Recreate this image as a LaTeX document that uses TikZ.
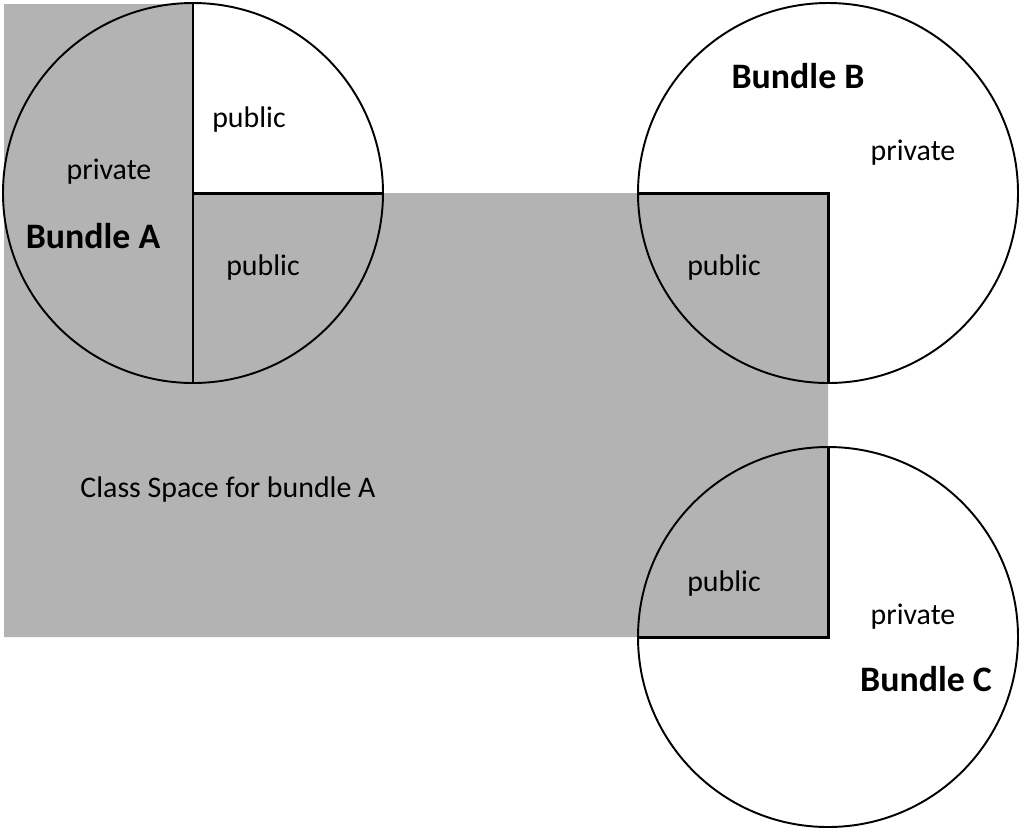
\documentclass[tikz,border=0pt]{standalone}
\usepackage{fontspec}
\setmainfont{Carlito}
\usepackage{xcolor}
\usepackage{tikz}
\usetikzlibrary{positioning}

\definecolor{spacegray}{RGB}{179,179,179}

\begin{document}
\begin{tikzpicture}[
  x=0.02cm, y=-0.02cm,
  label/.style={
    inner sep=0pt,
    font=\fontsize{17}{20}\selectfont
  },
  bundlename/.style={
    label,
    font=\fontsize{20.4}{24}\selectfont\bfseries
  },
  rim/.style={draw=black, line width=1.1pt},
  wall/.style={draw=black, line width=1.7pt}
]

\useasboundingbox (0,0) rectangle (1024,833);

% class space of bundle A
\fill[spacegray] (4,4) -- (193,4) -- (193,193) -- (828,193) -- (828,637) -- (4,637) -- cycle;

% bundles
\coordinate (ca) at (193,193);
\coordinate (cb) at (828,193);
\coordinate (cc) at (828,637);
\draw[rim] (ca) circle (190);
\draw[rim] (cb) circle (190);
\draw[rim] (cc) circle (190);

\draw[wall] (193,3) -- (ca) -- (383,193);
\draw[wall] (ca) -- (193,383);
\draw[wall] (638,193) -- (cb) -- (828,383);
\draw[wall] (828,447) -- (cc) -- (638,637);

\node[label] (pubA1) at (249,120) {public};
\node[label] (privA) at (109,172) {private};
\node[bundlename] (nameA) at (93,236) {Bundle A};
\node[label] (pubA2) at (263,268) {public};

\node[bundlename] (nameB) at (798,76) {Bundle B};
\node[label] (privB) at (913,153) {private};
\node[label] (pubB) at (724,268) {public};

\node[label] (space) at (228,490) {Class Space for bundle A};

\node[label] (pubC) at (724,584) {public};
\node[label] (privC) at (913,617) {private};
\node[bundlename] (nameC) at (926,679) {Bundle C};

\end{tikzpicture}
\end{document}
